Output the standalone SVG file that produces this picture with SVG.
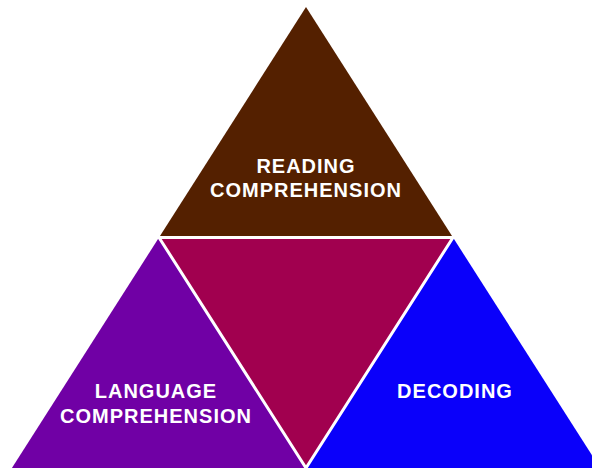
<svg xmlns="http://www.w3.org/2000/svg" width="592" height="468" viewBox="0 0 592 468">
<style>
.sep{stroke:#ffffff;stroke-width:3;stroke-linejoin:miter}
.lbl{font-family:"Liberation Sans",Arial,sans-serif;font-weight:bold;font-size:20px;fill:#ffffff;text-anchor:middle;letter-spacing:1px}
</style>
<rect width="592" height="468" fill="#ffffff"/>
<g id="reading-comprehension">
<polygon points="306,7 159,237.5 453,237.5" fill="#542000"/>
<text class="lbl" x="306" y="173">READING</text>
<text class="lbl" x="306" y="197">COMPREHENSION</text>
</g>
<g id="language-comprehension">
<polygon points="159,237.5 306,468 10,471" fill="#7000a5"/>
<text class="lbl" x="156" y="398">LANGUAGE</text>
<text class="lbl" x="156" y="423">COMPREHENSION</text>
</g>
<g id="decoding">
<polygon points="453,237.5 602,471 306,468" fill="#0a00fa"/>
<text class="lbl" x="455" y="398">DECODING</text>
</g>
<g id="center">
<polygon class="sep" points="159,237.5 453,237.5 306,468" fill="#a1004f"/>
</g>
<g id="connectors"></g>
</svg>
